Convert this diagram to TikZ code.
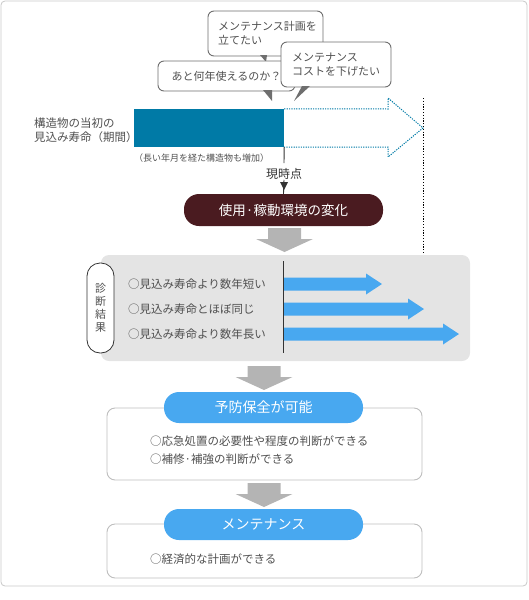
\documentclass[tikz,border=0pt]{standalone}
\usepackage{fontspec}
\setmainfont{Noto Sans CJK JP}
\usepackage{xcolor}
\usetikzlibrary{calc, positioning}

\definecolor{barblue}{RGB}{0,122,166}
\definecolor{rowblue}{RGB}{72,168,240}
\definecolor{maroon}{RGB}{74,27,32}
\definecolor{arrowgray}{RGB}{180,180,180}
\definecolor{panelgray}{RGB}{228,228,228}
\definecolor{framegray}{RGB}{200,200,200}
\definecolor{boxline}{RGB}{190,190,190}
\definecolor{bubbleline}{RGB}{110,110,110}
\definecolor{textgray}{RGB}{80,80,80}

% gray block arrow pointing down: centre x, top y
\newcommand{\bigdown}[2]{%
  \fill[arrowgray] (#1-16.5,#2) -- (#1+16.5,#2) -- (#1+16.5,#2+11) -- (#1+28.5,#2+11)
    -- (#1,#2+24) -- (#1-28.5,#2+11) -- (#1-16.5,#2+11) -- cycle;}

\begin{document}
\begin{tikzpicture}[x=1pt, y=-1pt,
    txt/.style={text=textgray, font=\fontsize{11.5}{14}\selectfont, inner sep=0pt},
    bubble/.style={draw=bubbleline, line width=0.9pt, fill=white, rounded corners=6pt,
        align=left, text=textgray, font=\fontsize{11}{14}\selectfont, inner sep=0pt},
    pill/.style={rounded corners=15pt, minimum width=199pt, minimum height=31pt,
        text=white, font=\fontsize{14}{16}\selectfont, inner sep=0pt},
    resultbox/.style={draw=boxline, line width=0.9pt, fill=white, rounded corners=8pt,
        minimum width=315pt, inner sep=0pt}]
    \useasboundingbox (0,0) rectangle (529,600);
    \draw[framegray, line width=0.8pt, rounded corners=4pt] (1,1) rectangle (527,586);

    % 1. Lời nói
    \node[bubble, minimum width=115pt, minimum height=45pt, text width=95pt] (plan) at (265.5,33.5) {メンテナンス計画を\\立てたい};
    \fill[bubbleline] (260,55) -- (267,55) -- (266,62) -- cycle;
    \node[bubble, minimum width=137pt, minimum height=30pt, align=center] (years) at (226.5,76) {あと何年使えるのか？};
    \fill[bubbleline] (263,90) -- (272,90) -- (272,101) -- cycle;
    \node[bubble, minimum width=110pt, minimum height=45pt, text width=88pt] (cost) at (336,64.5) {メンテナンス\\コストを下げたい};
    \fill[bubbleline] (302,86) -- (310,86) -- (294,101) -- cycle;

    % 2. Thanh tuổi thọ
    \node[txt, anchor=west, align=left] (label) at (34,130) {構造物の当初の\\見込み寿命（期間）};
    \node[fill=barblue, minimum width=150pt, minimum height=38pt, inner sep=0pt] (bar) at (209,128) {};
    \draw[barblue, line width=1pt, dash pattern=on 1.2pt off 1.2pt]
        (bar.north east) -- (388,109) -- (388,98) -- (423,128) -- (388,157) -- (388,147) -- (bar.south east);
    \draw[black, line width=0.9pt, dash pattern=on 1.2pt off 1.6pt] (423,98) -- (423,355);
    \node[txt, anchor=west, font=\fontsize{9}{11}\selectfont] (note) at (134,158) {（長い年月を経た構造物も増加）};

    % 3. Hiện tại
    \node[txt, text=black!80, font=\fontsize{12}{14}\selectfont] (now) at (284,174) {現時点};
    \node[pill, fill=maroon, minimum height=32pt, font=\fontsize{13.5}{16}\selectfont] (change) at (283.5,210) {使用·稼動環境の変化};
    \draw[black!80, line width=0.9pt] (bar.south east) -- (284,163);
    \draw[black!80, line width=0.9pt] (now.south) -- (change.north);
    \fill[black!80] (280,182) -- (288,182) -- (284,190) -- cycle;
    \bigdown{284.5}{228}

    % 4. Kết quả chẩn đoán
    \fill[panelgray, rounded corners=8pt] (101,255) rectangle (470,361);
    \node[draw=black!80, line width=0.8pt, fill=white, rounded corners=13pt, minimum width=27pt,
        minimum height=90pt, txt, align=center, font=\fontsize{11}{13}\selectfont] (diag) at (100.5,308) {診\\断\\結\\果};
    \foreach \i/\y/\tip/\t in {1/284/382/○見込み寿命より数年短い, 2/309/424/○見込み寿命とほぼ同じ, 3/334/459/○見込み寿命より数年長い} {
        \node[txt, anchor=west] (row\i) at (128,\y) {\t};
        \fill[rowblue] (283,\y-6.5) -- (\tip-16,\y-6.5) -- (\tip-16,\y-10.5) -- (\tip,\y)
            -- (\tip-16,\y+10.5) -- (\tip-16,\y+6.5) -- (283,\y+6.5) -- cycle;
    }
    \draw[black!80, line width=0.9pt] (283,261) -- (283,353);

    % 5. Bảo trì
    \bigdown{264}{366}
    \node[resultbox, minimum height=72pt] (box1) at (264.5,444) {};
    \node[pill, fill=rowblue] (prevent) at (263.5,407.5) {予防保全が可能};
    \node[txt, anchor=west] (item1) at (150,441) {○応急処置の必要性や程度の判断ができる};
    \node[txt, anchor=west] (item2) at (150,459) {○補修·補強の判断ができる};

    \bigdown{264}{483}
    \node[resultbox, minimum height=54pt] (box2) at (264.5,551) {};
    \node[pill, fill=rowblue] (maint) at (263.5,524.5) {メンテナンス};
    \node[txt, anchor=west] (item3) at (150,559) {○経済的な計画ができる};
\end{tikzpicture}
\end{document}
